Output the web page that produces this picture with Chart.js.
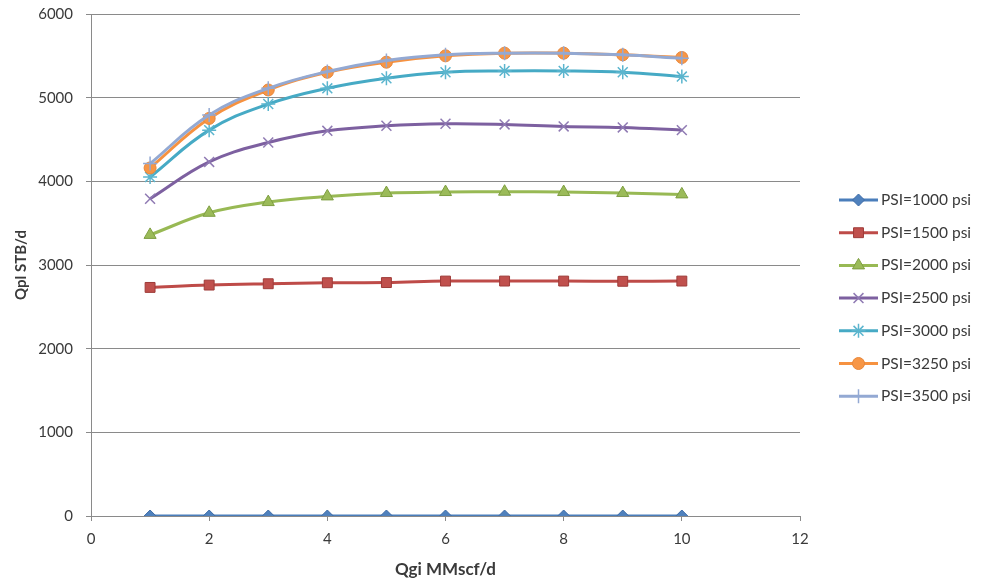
<!DOCTYPE html>
<html>
<head>
<meta charset="utf-8">
<script src="https://cdn.jsdelivr.net/npm/chart.js@4.4.0/dist/chart.umd.min.js"></script>
<style>
html,body{margin:0;padding:0;background:#fff;}
#wrap{width:981px;height:583px;position:relative;}
</style>
</head>
<body>
<div id="wrap"><canvas id="c" width="981" height="583"></canvas></div>
<script>
const xValues = [1, 2, 3, 4, 5, 6, 7, 8, 9, 10];
const psi1000 = [0, 0, 0, 0, 0, 0, 0, 0, 0, 0];
const psi1500 = [2732, 2760, 2776, 2788, 2790, 2808, 2808, 2808, 2805, 2808];
const psi2000 = [3360, 3624, 3752, 3820, 3860, 3872, 3876, 3872, 3860, 3844];
const psi2500 = [3792, 4232, 4464, 4604, 4664, 4688, 4680, 4656, 4644, 4612];
const psi3000 = [4052, 4612, 4924, 5112, 5232, 5304, 5320, 5320, 5304, 5252];
const psi3250 = [4160, 4752, 5092, 5304, 5424, 5500, 5532, 5532, 5512, 5480];
const psi3500 = [4212, 4792, 5112, 5312, 5444, 5512, 5532, 5532, 5512, 5470];
const seriesLabels = ['PSI=1000 psi','PSI=1500 psi','PSI=2000 psi','PSI=2500 psi','PSI=3000 psi','PSI=3250 psi','PSI=3500 psi'];
const xTickMin = 0, xTickMax = 12, xTickStep = 2;
const yTickMin = 0, yTickMax = 6000, yTickStep = 1000;
const xTitle = 'Qgi MMscf/d';
const yTitle = 'Qpl STB/d';

const seriesValues = [psi1000, psi1500, psi2000, psi2500, psi3000, psi3250, psi3500];
const styles = [
  {line:'#4A7EBB', bg:'#4F81BD', border:'#3D6BA6', ps:'rectRot', r:6, bw:1},
  {line:'#BE4B48', bg:'#C0504D', border:'#9E3B38', ps:'rect', r:7, bw:1},
  {line:'#98B954', bg:'#9BBB59', border:'#7E9E41', ps:'triangle', r:7, bw:1},
  {line:'#7D60A0', bg:'#8F7AB3', border:'#8F7AB3', ps:'crossRot', r:7, bw:1.5},
  {line:'#46AAC5', bg:'#5BB5CE', border:'#5BB5CE', ps:'star', r:7, bw:1.5},
  {line:'#F69240', bg:'#F79646', border:'#E7863A', ps:'circle', r:6, bw:1},
  {line:'#93A9D3', bg:'#93A9D3', border:'#93A9D3', ps:'cross', r:7, bw:1.5}
];

const datasets = seriesValues.map((vals, i) => ({
  label: seriesLabels[i],
  data: xValues.map((x, k) => ({x: x, y: vals[k]})),
  borderColor: styles[i].line,
  backgroundColor: styles[i].bg,
  pointBackgroundColor: styles[i].bg,
  pointBorderColor: styles[i].border,
  pointStyle: styles[i].ps,
  pointRadius: styles[i].r,
  pointBorderWidth: styles[i].bw,
  borderWidth: 3,
  tension: 0.4,
  fill: false,
  order: seriesValues.length - i
}));

const legendPlugin = {
  id: 'customLegend',
  afterDraw(chart) {
    const ctx = chart.ctx;
    ctx.save();
    const x0 = 839, x1 = 878, tx = 881, y0 = 200, dy = 32.7;
    chart.data.datasets.forEach((ds, i) => {
      const y = y0 + i * dy;
      ctx.strokeStyle = ds.borderColor;
      ctx.lineWidth = 3;
      ctx.beginPath(); ctx.moveTo(x0, y); ctx.lineTo(x1, y); ctx.stroke();
      ctx.fillStyle = ds.pointBackgroundColor;
      ctx.strokeStyle = ds.pointBorderColor;
      ctx.lineWidth = ds.pointBorderWidth;
      Chart.helpers.drawPoint(ctx, {pointStyle: ds.pointStyle, radius: ds.pointRadius, rotation: 0, borderWidth: ds.pointBorderWidth}, (x0 + x1) / 2, y);
      ctx.fillStyle = '#3A3A3A';
      ctx.font = '15.5px Lato';
      ctx.textAlign = 'left';
      ctx.textBaseline = 'middle';
      ctx.fillText(ds.label, tx, y);
    });
    ctx.restore();
  }
};

const gridColor = '#8A8A8A';
new Chart(document.getElementById('c'), {
  type: 'line',
  data: { datasets },
  options: {
    responsive: false,
    devicePixelRatio: 1,
    animation: false,
    layout: { autoPadding: false, padding: { left: 0, right: 181, top: 14, bottom: 0 } },
    plugins: { legend: { display: false }, tooltip: { enabled: false } },
    scales: {
      x: {
        type: 'linear', min: xTickMin, max: xTickMax,
        ticks: { stepSize: xTickStep, color: '#3A3A3A', font: { family: 'Lato', size: 15 }, padding: 9, callback: v => String(v) },
        grid: { drawOnChartArea: false, drawTicks: true, tickLength: 5, color: gridColor },
        border: { display: true, color: gridColor, width: 1 },
        title: { display: true, text: xTitle, color: '#3A3A3A', font: { family: 'Lato', size: 17, weight: 'bold' }, padding: { top: 0, bottom: 3 } },
        afterFit(scale) { scale.height = 67; }
      },
      y: {
        type: 'linear', min: yTickMin, max: yTickMax,
        ticks: { stepSize: yTickStep, color: '#3A3A3A', font: { family: 'Lato', size: 15, lineHeight: 0.05 }, padding: 13, callback: v => String(v) },
        grid: { drawOnChartArea: true, drawTicks: true, tickLength: 5, color: gridColor },
        border: { display: true, color: gridColor, width: 1 },
        title: { display: true, text: yTitle, color: '#3A3A3A', font: { family: 'Lato', size: 15, weight: 'bold' }, padding: { top: 12, bottom: 0 } },
        afterFit(scale) { scale.width = 91; }
      }
    }
  },
  plugins: [legendPlugin]
});
</script>
</body>
</html>
